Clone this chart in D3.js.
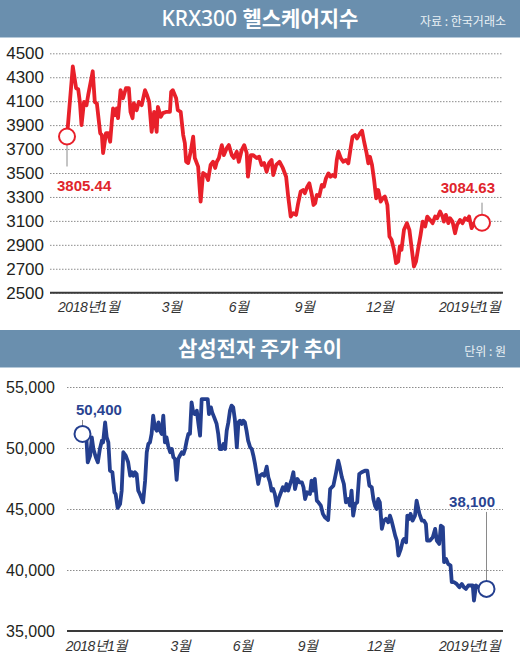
<!DOCTYPE html>
<meta charset="utf-8">
<style>
    body { margin: 0; background: #fff; }
    svg { display: block; }
</style>
<body>

<div class="container"></div>

<script src="https://cdn.jsdelivr.net/npm/d3@7"></script>
<script>

// x axis labels (shared by both panels)
const tickLabels = ['2018년1월', '3월', '6월', '9월', '12월', '2019년1월'];

// KRX300 healthcare index, position in period (0-100) and value
const krxT = [0, 1.4, 2.2, 2.7, 3.1, 3.5, 4.1, 4.7, 5.1, 6.2, 6.7, 7.2, 8.0, 8.4, 8.7, 9.4, 9.9, 10.4, 10.8, 11.1,
    11.6, 12.0, 12.3, 12.9, 13.5, 14.2, 14.9, 15.3, 15.8, 16.1, 16.8, 17.3, 18.0, 18.8, 19.3, 19.8, 20.4, 21.0, 21.6, 21.9,
    22.6, 23.1, 24.0, 24.8, 25.1, 25.5, 26.3, 26.7, 27.4, 28.0, 28.4, 28.7, 29.2, 29.8, 30.4, 30.8, 31.6, 32.2, 32.8, 33.5,
    34.0, 34.6, 35.2, 35.7, 36.1, 36.6, 37.3, 37.8, 38.5, 39.0, 39.7, 40.2, 40.9, 41.4, 42.1, 42.7, 43.3, 43.6, 44.3, 44.8,
    45.7, 46.3, 46.9, 47.5, 48.1, 48.7, 49.3, 49.7, 50.4, 51.2, 52.0, 52.8, 53.3, 53.9, 54.5, 55.2, 55.7, 56.3, 56.9, 57.3,
    57.9, 58.4, 59.0, 59.4, 59.8, 60.2, 60.8, 61.4, 61.9, 62.4, 63.0, 63.5, 64.0, 64.6, 65.0, 65.4, 66.0, 66.6, 67.2, 67.8,
    68.4, 68.8, 69.4, 69.9, 70.6, 71.1, 71.6, 72.2, 72.6, 73.0, 73.5, 74.0, 74.5, 75.0, 75.6, 76.1, 76.6, 77.2, 77.7, 78.2,
    78.8, 79.3, 79.8, 80.2, 80.6, 81.2, 81.9, 82.5, 83.1, 83.6, 84.1, 84.7, 85.2, 85.7, 86.3, 86.8, 87.5, 88.1, 88.7, 89.2,
    89.9, 90.5, 90.8, 91.3, 91.9, 92.3, 92.9, 93.5, 94.0, 94.7, 95.3, 95.9, 96.5, 96.9, 97.5, 98.1, 98.7, 100];
const krxV = [3805, 4390, 4208, 4200, 4094, 3900, 4094, 4067, 4150, 4350, 4094, 4080, 3833, 3817, 3667, 3833, 3833, 3761, 3928, 4040,
    3983, 4040, 3958, 4192, 4125, 4208, 4208, 4011, 3958, 4083, 4025, 4094, 4067, 4192, 4150, 4094, 3844, 4011, 3844, 4053,
    3969, 4000, 4011, 4011, 4178, 4192, 4125, 4025, 4011, 3817, 3750, 3594, 3583, 3678, 3803, 3625, 3553, 3261, 3500, 3483,
    3442, 3567, 3594, 3542, 3594, 3625, 3733, 3650, 3708, 3733, 3650, 3625, 3678, 3594, 3692, 3733, 3667, 3469, 3650, 3650,
    3625, 3636, 3567, 3583, 3511, 3583, 3608, 3483, 3567, 3594, 3542, 3469, 3303, 3136, 3164, 3150, 3247, 3344, 3358, 3331,
    3386, 3414, 3317, 3233, 3247, 3317, 3308, 3400, 3386, 3456, 3497, 3469, 3483, 3469, 3608, 3678, 3622, 3594, 3608, 3581,
    3719, 3803, 3817, 3789, 3831, 3853, 3761, 3664, 3581, 3636, 3567, 3442, 3289, 3358, 3261, 3289, 3303, 3233, 2969, 2942,
    2858, 2747, 2761, 2886, 2858, 3025, 3081, 3025, 2858, 2719, 2761, 2886, 2983, 3094, 3053, 3136, 3108, 3081, 3136, 3122,
    3178, 3136, 3094, 3150, 3081, 3122, 3094, 2997, 3067, 3108, 3081, 3122, 3108, 3136, 3039, 3081, 3094, 3085];
const krxTicksY = [2500, 2700, 2900, 3100, 3300, 3500, 3700, 3900, 4100, 4300, 4500];
const krxTicksT = [5.1, 25.1, 41.2, 57.1, 75.2, 96.9];

// Samsung Electronics share price (won)
const samT = [0, 1.0, 1.3, 1.9, 2.3, 2.7, 3.3, 3.8, 4.3, 4.8, 5.1, 5.6, 6.0, 6.4, 6.8, 7.4, 7.9, 8.2, 8.7, 9.3,
    9.7, 10.1, 10.7, 11.3, 11.8, 12.2, 12.6, 13.0, 13.4, 13.8, 14.2, 14.7, 15.0, 15.5, 15.9, 16.3, 16.7, 17.1, 17.5, 17.9,
    18.4, 18.8, 19.2, 19.6, 20.0, 20.4, 20.8, 21.2, 21.7, 22.1, 22.5, 22.9, 23.3, 23.7, 24.1, 24.6, 25.0, 25.4, 25.8, 26.2,
    26.6, 27.0, 27.4, 27.8, 28.3, 28.7, 29.1, 29.5, 30.3, 31.0, 31.3, 31.8, 32.1, 32.6, 33.2, 33.6, 34.0, 34.5, 34.9, 35.3,
    35.7, 36.1, 36.5, 36.9, 37.3, 37.7, 38.2, 38.6, 39.0, 39.4, 39.8, 40.2, 40.6, 41.0, 41.5, 41.9, 42.3, 42.7, 43.1, 43.5,
    43.9, 44.5, 45.0, 45.6, 46.0, 46.4, 46.8, 47.2, 47.6, 48.1, 48.6, 49.6, 50.1, 50.5, 50.9, 51.4, 51.8, 52.2, 52.6, 53.2,
    53.7, 54.3, 54.7, 55.1, 55.6, 56.3, 56.7, 57.1, 57.5, 58.0, 58.4, 59.0, 59.5, 60.0, 60.8, 61.3, 62.1, 62.7, 63.3, 63.7,
    64.2, 64.7, 65.2, 65.8, 66.2, 66.6, 67.0, 67.5, 68.0, 68.5, 69.1, 69.9, 70.5, 71.0, 71.6, 72.0, 72.4, 72.8, 73.2, 73.6,
    74.1, 74.6, 75.1, 75.7, 76.1, 76.5, 76.9, 77.4, 77.8, 78.2, 78.8, 79.3, 79.6, 80.1, 80.4, 80.9, 81.2, 81.7, 82.3, 82.7,
    83.4, 84.0, 84.5, 85.0, 85.3, 86.0, 86.7, 87.3, 87.7, 88.3, 88.7, 89.2, 89.5, 90.0, 90.5, 91.1, 91.4, 92.0, 92.6, 93.3,
    93.9, 94.4, 94.9, 95.5, 96.1, 96.6, 96.9, 97.4, 98.0, 100];
const samV = [51150, 50600, 48830, 49370, 50870, 49920, 49240, 48830, 49920, 50600, 50460, 52100, 50870, 50460, 48140, 48010, 46370, 46230, 45090, 45410,
    46500, 49650, 49370, 48830, 47730, 48010, 47730, 48010, 47870, 46500, 46230, 45820, 45550, 47320, 49650, 50330, 50460, 51150, 52650, 51690,
    51420, 52100, 51420, 51150, 52650, 50460, 50870, 50190, 49650, 49920, 49240, 49100, 47380, 49100, 49370, 49650, 49510, 49920, 50600, 51150,
    51150, 53740, 52920, 52780, 53060, 51970, 51010, 54010, 54010, 54010, 52780, 53330, 52920, 52510, 51970, 51150, 49920, 49920, 50330, 49920,
    51420, 52100, 53060, 53470, 53330, 52380, 50060, 52100, 52240, 51970, 52240, 52100, 51420, 50600, 50060, 49920, 49370, 48690, 47870, 47050,
    47730, 47870, 47730, 48470, 47600, 47190, 46500, 46640, 46230, 45280, 45900, 46780, 46510, 47050, 46510, 47050, 47460, 48010, 46640, 47460,
    47190, 47190, 46780, 45820, 46370, 46230, 47330, 46510, 47460, 45690, 45550, 45280, 44600, 44320, 44100, 46640, 46920, 47870, 48960, 48420,
    47600, 47050, 45550, 45820, 45280, 46510, 44460, 45410, 45550, 47870, 48010, 48140, 48140, 46920, 46780, 45820, 45280, 45000, 45820, 45550,
    43370, 44050, 44190, 43910, 44460, 44050, 43500, 42820, 42410, 41180, 41730, 42410, 42550, 42270, 44460, 44190, 44600, 44050, 44460, 45690,
    44600, 44050, 44050, 43780, 42410, 42410, 42680, 43370, 42410, 42140, 43640, 43500, 40640, 40910, 40500, 40360, 39000, 39000, 38860, 38590,
    38860, 38590, 38450, 38730, 38730, 38730, 37500, 38730, 38590, 38450];
const samTicksY = [35000, 40000, 45000, 50000, 55000];
const samTicksT = [3.3, 24.1, 39.5, 55.6, 73.6, 95.7];

const width = 520;
const height = 653;

const numFont = '"Liberation Sans", Arial, "Noto Sans CJK KR", sans-serif';
const korFont = '"Noto Sans CJK KR", "Noto Sans", sans-serif';
const bandColor = '#6a8fae';

const svg = d3.select('.container')
                .append('svg')
                .attr('width', width)
                .attr('height', height)
                .style('background', '#fff');

const header = (y0, titleParts, note) => {
    svg.append('rect')
        .attr('x', 0).attr('y', y0)
        .attr('width', width).attr('height', 37)
        .attr('fill', bandColor);
    svg.append('line')
        .attr('x1', 0).attr('x2', width)
        .attr('y1', y0 + 37.5).attr('y2', y0 + 37.5)
        .attr('stroke', '#b5c9d9');

    const t = svg.append('text')
        .attr('x', 260).attr('y', y0 + 26)
        .attr('text-anchor', 'middle')
        .attr('fill', '#fff')
        .attr('font-size', 21);
    titleParts.forEach(p => {
        t.append('tspan')
            .attr('font-family', p.latin ? '"Noto Sans", sans-serif' : korFont)
            .attr('font-weight', p.latin ? 500 : 700)
            .text(p.text);
    });

    svg.append('text')
        .attr('x', 506).attr('y', y0 + 26)
        .attr('text-anchor', 'end')
        .attr('fill', '#e9eff4')
        .attr('font-family', korFont)
        .attr('font-size', 12)
        .text(note);
};

const panel = (o) => {
    const x = d3.scaleLinear().domain([0, 100]).range(o.xRange);
    const y = d3.scaleLinear().domain(d3.extent(o.yTicks)).range(o.yRange);
    const g = svg.append('g');

    // y axis + dotted grid
    const ya = g.append('g')
        .attr('transform', `translate(${o.gridX[0]},0)`)
        .call(d3.axisLeft(y)
            .tickValues(o.yTicks)
            .tickFormat(o.fmt)
            .tickSizeInner(-(o.gridX[1] - o.gridX[0]))
            .tickSizeOuter(0)
            .tickPadding(o.pad));
    ya.select('.domain').remove();
    ya.selectAll('.tick line')
        .attr('stroke', '#8c8c8c')
        .attr('stroke-dasharray', '1.5,1.5');
    ya.selectAll('.tick text')
        .attr('font-family', numFont)
        .attr('font-size', o.fs)
        .attr('fill', '#231f20');

    // solid base line
    g.append('line')
        .attr('x1', o.gridX[0]).attr('x2', o.gridX[1])
        .attr('y1', y(o.yTicks[0])).attr('y2', y(o.yTicks[0]))
        .attr('stroke', '#3a3a3a')
        .attr('stroke-width', 2);

    // x labels
    const xa = g.append('g')
        .attr('transform', `translate(0,${y(o.yTicks[0])})`)
        .call(d3.axisBottom(x)
            .tickValues(o.xTicks)
            .tickFormat((d, i) => tickLabels[i])
            .tickSize(0)
            .tickPadding(o.xPad));
    xa.select('.domain').remove();
    xa.selectAll('.tick text')
        .attr('font-family', numFont)
        .attr('font-size', 14)
        .attr('font-style', 'italic')
        .attr('letter-spacing', -0.5)
        .attr('fill', '#333');

    // the line
    const line = d3.line()
        .x((d, i) => x(o.t[i]))
        .y(d => y(d))
        .curve(d3.curveLinear);

    g.append('path')
        .datum(o.v)
        .attr('d', line)
        .attr('fill', 'none')
        .attr('stroke', o.color)
        .attr('stroke-width', 3.8)
        .attr('stroke-linejoin', 'round')
        .attr('stroke-linecap', 'round');

    // start / end markers
    o.marks.forEach(m => {
        const i = m.first ? 0 : o.v.length - 1;
        const cx = x(o.t[i]);
        const cy = y(o.v[i]);

        g.append('line')
            .attr('x1', cx).attr('x2', cx)
            .attr('y1', cy + m.lead[0]).attr('y2', cy + m.lead[1])
            .attr('stroke', '#8a8a8a')
            .attr('stroke-width', 1);

        g.append('circle')
            .attr('cx', cx).attr('cy', cy)
            .attr('r', 8)
            .attr('fill', '#fff')
            .attr('stroke', o.color)
            .attr('stroke-width', 2);

        g.append('text')
            .attr('x', cx + m.dx).attr('y', cy + m.dy)
            .attr('text-anchor', m.anchor)
            .attr('font-family', numFont)
            .attr('font-weight', 'bold')
            .attr('font-size', 15)
            .attr('fill', o.labelColor)
            .text(m.label);
    });
};

header(0, [{ text: 'KRX300 ', latin: true }, { text: '헬스케어지수' }], '자료 : 한국거래소');
header(330, [{ text: '삼성전자 주가 추이' }], '단위 : 원');

panel({
    t: krxT, v: krxV,
    xRange: [67, 482], yRange: [292.7, 53.3],
    gridX: [50, 503],
    yTicks: krxTicksY, xTicks: krxTicksT,
    fmt: d3.format('d'), fs: 17, pad: 6, xPad: 9,
    color: '#e8202a', labelColor: '#e0252c',
    marks: [
        { first: true, label: '3805.44', lead: [8, 30], dx: -10, dy: 55, anchor: 'start' },
        { first: false, label: '3084.63', lead: [-20, -8], dx: 13, dy: -30, anchor: 'end' }
    ]
});

panel({
    t: samT, v: samV,
    xRange: [82.5, 486.5], yRange: [631, 387],
    gridX: [67, 503],
    yTicks: samTicksY, xTicks: samTicksT,
    fmt: d3.format(','), fs: 16, pad: 12, xPad: 10,
    color: '#243f8f', labelColor: '#2a4491',
    marks: [
        { first: true, label: '50,400', lead: [-14, -8], dx: -6.5, dy: -19, anchor: 'start' },
        { first: false, label: '38,100', lead: [-77, -8], dx: 8.5, dy: -82, anchor: 'end' }
    ]
});

</script>
</body>
